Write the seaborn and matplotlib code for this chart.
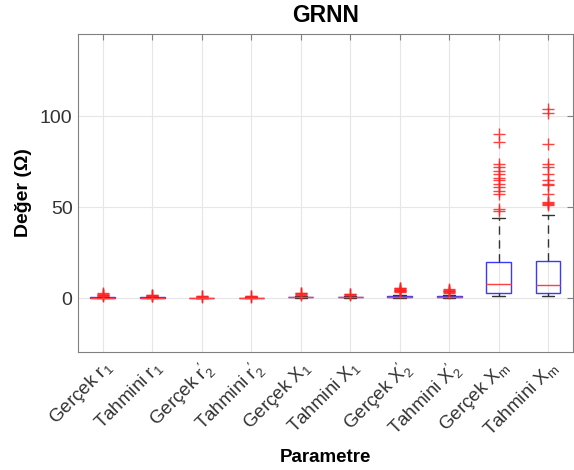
import matplotlib
matplotlib.use("Agg")
import matplotlib.pyplot as plt
import seaborn as sns
import pandas as pd

labels = ["Gerçek r$_1$", "Tahmini r$_1$", "Gerçek r$_2^{\\prime}$", "Tahmini r$_2^{\\prime}$",
          "Gerçek X$_1$", "Tahmini X$_1$", "Gerçek X$_2^{\\prime}$", "Tahmini X$_2^{\\prime}$",
          "Gerçek X$_m$", "Tahmini X$_m$"]

g_r1 = [0.10, 0.15, 0.18, 0.20, 0.22, 0.25, 0.27, 0.30, 0.32, 0.35, 0.38, 0.40,
        0.42, 0.45, 0.48, 0.50, 0.55, 0.60, 1.2, 1.5, 1.8, 2.2, 2.6]
t_r1 = [0.12, 0.16, 0.19, 0.21, 0.23, 0.26, 0.28, 0.30, 0.33, 0.36, 0.38, 0.41,
        0.43, 0.46, 0.48, 0.51, 0.54, 0.58, 1.1, 1.4, 1.7, 2.0]
g_r2 = [0.05, 0.08, 0.10, 0.12, 0.14, 0.16, 0.18, 0.20, 0.22, 0.24, 0.26, 0.28,
        0.30, 0.32, 0.34, 0.36, 0.40, 0.8, 1.0, 1.3]
t_r2 = [0.06, 0.09, 0.11, 0.13, 0.15, 0.17, 0.19, 0.21, 0.23, 0.25, 0.27, 0.29,
        0.31, 0.33, 0.35, 0.38, 0.42, 0.8, 1.0, 1.2]
g_x1 = [0.20, 0.25, 0.30, 0.35, 0.40, 0.45, 0.50, 0.55, 0.60, 0.65, 0.70, 0.75,
        0.80, 0.85, 0.90, 0.95, 1.0, 1.9, 2.2, 2.6, 3.0]
t_x1 = [0.20, 0.25, 0.30, 0.35, 0.40, 0.45, 0.50, 0.55, 0.60, 0.65, 0.70, 0.75,
        0.80, 0.85, 0.90, 0.95, 1.0, 1.8, 2.1, 2.5]
g_x2 = [0.10, 0.14, 0.18, 0.22, 0.26, 0.30, 0.34, 0.38, 0.42,
        0.45,
        0.49, 0.53, 0.57, 0.61, 0.65, 0.69, 0.73, 0.77,
        0.80,
        0.86, 0.92, 0.98, 1.04, 1.10, 1.16, 1.22, 1.27,
        1.30,
        1.60,
        3.4, 3.8, 4.1, 4.4, 4.7, 5.0, 5.4, 5.8]
t_x2 = [0.10, 0.15, 0.20, 0.25, 0.30, 0.35, 0.40, 0.44,
        0.48,
        0.52, 0.56, 0.60, 0.64, 0.68, 0.72, 0.76,
        0.80,
        0.85, 0.90, 0.95, 1.00, 1.05, 1.10, 1.15,
        1.20,
        1.40, 1.55,
        3.1, 3.4, 3.7, 4.0, 4.4, 4.9]
g_xm = [1.0, 1.1, 1.2, 1.3, 1.4, 1.5, 1.6, 1.7, 1.8, 1.9, 2.0, 2.1, 2.2, 2.4, 2.5, 2.6, 2.8, 2.9,
        3.0,
        3.2, 3.5, 3.8, 4.0, 4.3, 4.6, 5.0, 5.3, 5.6, 6.0, 6.3, 6.6, 7.0, 7.2, 7.5, 7.7, 7.9,
        8.0,
        8.5, 9.0, 9.6, 10.2, 11.0, 11.8, 12.5, 13.3, 14.0, 14.8, 15.5, 16.3, 17.0, 17.8, 18.5, 19.2, 19.7,
        20.0,
        26, 31, 38, 44,
        48, 49, 57, 59, 61, 63, 65, 66, 68, 70, 72, 74, 86, 90]
t_xm = [1.0, 1.1, 1.2, 1.3, 1.4, 1.5, 1.6, 1.7, 1.8, 1.9, 2.0, 2.1, 2.2, 2.4, 2.5, 2.6, 2.8, 2.9,
        3.0,
        3.2, 3.4, 3.7, 3.9, 4.2, 4.4, 4.7, 5.0, 5.3, 5.6, 5.9, 6.2, 6.5, 6.7, 6.9, 7.0, 7.1,
        7.2,
        7.8, 8.5, 9.3, 10.0, 10.8, 11.6, 12.4, 13.2, 14.0, 14.8, 15.6, 16.4, 17.2, 18.0, 18.8, 19.6, 20.2,
        20.7,
        27, 33, 39, 45.5,
        51, 52, 52.5, 53, 57, 62, 63, 65, 68, 72, 74, 84.5, 102, 104]

series = [g_r1, t_r1, g_r2, t_r2, g_x1, t_x1, g_x2, t_x2, g_xm, t_xm]

rows = []
for lab, vals in zip(labels, series):
    for v in vals:
        rows.append({"Parametre": lab, "Deger": v})
df = pd.DataFrame(rows)

sns.set_style("white")
plt.rcParams["font.family"] = ["Liberation Sans", "DejaVu Sans"]
plt.rcParams["mathtext.fontset"] = "custom"
plt.rcParams["mathtext.rm"] = "Liberation Sans"
plt.rcParams["mathtext.it"] = "Liberation Sans"

fig = plt.figure(figsize=(5.74, 4.70), dpi=100)
ax = fig.add_axes([0.136, 0.252, 0.862, 0.675])

sns.boxplot(data=df, x="Parametre", y="Deger", order=labels, ax=ax, width=0.5,
            whis=1.5, linewidth=1.0,
            boxprops=dict(facecolor="none", edgecolor="#3a3aff", linewidth=1.0),
            medianprops=dict(color="#ff4040", linewidth=1.0),
            whiskerprops=dict(color="#333333", linestyle=(0, (6, 4)), linewidth=1.0),
            capprops=dict(color="#333333", linewidth=1.0),
            flierprops=dict(marker="+", markeredgecolor="#ff2020", markersize=8,
                            markeredgewidth=1.0, alpha=0.85))

ax.set_xlim(-0.5, 9.5)
ax.set_ylim(-29.3, 145)
ax.set_yticks([0, 50, 100])
ax.grid(True, color="#e6e6e6", linewidth=0.8)
ax.set_axisbelow(True)
for s in ax.spines.values():
    s.set_visible(True)
    s.set_color("#808080")
    s.set_linewidth(0.8)
ax.tick_params(axis="y", direction="in", right=True, length=4,
               color="#808080", labelsize=14, labelcolor="#333333", pad=4)
ax.tick_params(axis="x", direction="in", top=True, length=4,
               color="#808080", labelsize=13.5, labelcolor="#333333", pad=4)
ax.set_xticks(range(len(labels)))
ax.set_xticklabels(labels, rotation=45, ha="right", rotation_mode="anchor")
ax.set_xlabel("Parametre", fontsize=13.5, fontweight="bold", color="black", labelpad=6)
ax.set_ylabel("Değer (Ω)", fontsize=14, fontweight="bold", color="black", labelpad=6)
ax.set_title("GRNN", fontsize=16.5, fontweight="bold", color="black", pad=9)

fig.savefig("out.png", dpi=100)
